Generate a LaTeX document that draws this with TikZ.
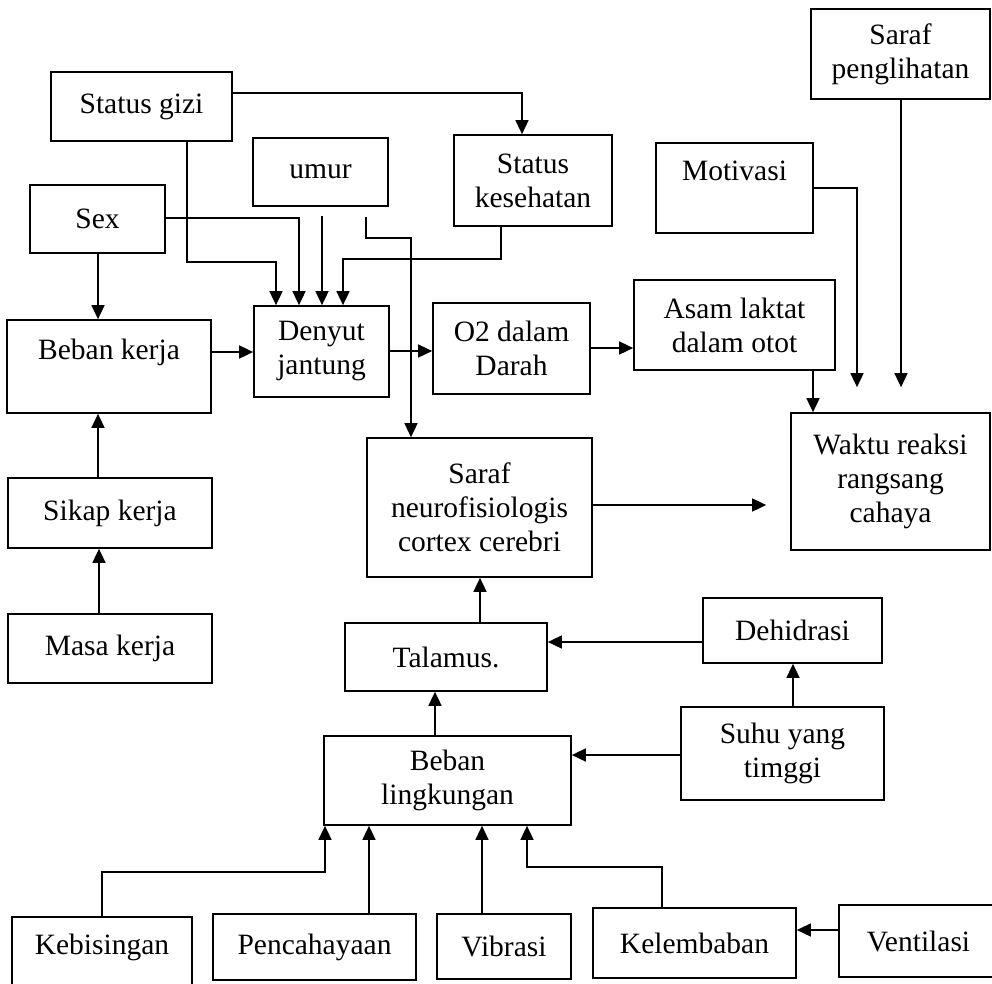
\documentclass[tikz,border=0pt]{standalone}
\usepackage{fontspec}
\setmainfont{Liberation Serif}
\usetikzlibrary{arrows.meta}
\begin{document}
\begin{tikzpicture}[x=1pt,y=-1pt,
  box/.style={draw,line width=1.7pt,inner sep=0pt,align=center,
    font=\fontsize{29.5}{34}\selectfont},
  arr/.style={line width=1.6pt,-{Triangle[length=14pt,width=13pt]}}]
\clip (0,0) rectangle (992,983);
\useasboundingbox (0,0) rectangle (992,983);
% boxes
\node[box,minimum width=181pt,minimum height=69pt] (gizi) at (141.5,106.5) {Status gizi};
\node[box,minimum width=135pt,minimum height=68pt] (sex) at (97.5,219) {Sex};
\node[box,minimum width=135pt,minimum height=68pt] (umur) at (320.5,172) {umur};
\node[box,minimum width=158pt,minimum height=91pt] (kes) at (533,180.5) {Status\\kesehatan};
\node[box,minimum width=157pt,minimum height=90pt] (moti) at (734.5,188) {Motivasi\\\mbox{}};
\node[box,minimum width=179pt,minimum height=90pt] (peng) at (900.5,54) {Saraf\\penglihatan};
\node[box,minimum width=201pt,minimum height=90pt] (asam) at (734.5,325) {Asam laktat\\dalam otot};
\node[box,minimum width=199pt,minimum height=137pt] (waktu) at (890.5,481.5) {Waktu reaksi\\rangsang\\cahaya};
\node[box,minimum width=135pt,minimum height=91pt] (denyut) at (321.5,351.5) {Denyut\\jantung};
\node[box,minimum width=157pt,minimum height=91pt] (o2) at (511.5,348.5) {O2 dalam\\Darah};
\node[box,minimum width=204pt,minimum height=93pt] (bk) at (109,366.5) {Beban kerja\\\mbox{}};
\node[box,minimum width=204pt,minimum height=70pt] (sikap) at (110,513) {Sikap kerja};
\node[box,minimum width=204pt,minimum height=69pt] (masa) at (110,648.5) {Masa kerja};
\node[box,minimum width=225pt,minimum height=139pt] (saraf) at (479.5,507.5) {Saraf\\neurofisiologis\\cortex cerebri};
\node[box,minimum width=202pt,minimum height=68pt] (tal) at (446,657) {Talamus.};
\node[box,minimum width=179pt,minimum height=65pt] (dehi) at (792.5,630.5) {Dehidrasi};
\node[box,minimum width=203pt,minimum height=93pt] (suhu) at (782.5,753.5) {Suhu yang\\timggi};
\node[box,minimum width=247pt,minimum height=89pt] (bl) at (447.5,780.5) {Beban\\lingkungan};
\node[box,minimum width=180pt,minimum height=76pt,text depth=22pt] (kebis) at (102,955) {Kebisingan};
\node[box,minimum width=203pt,minimum height=66pt] (pen) at (314.5,947) {Pencahayaan};
\node[box,minimum width=134pt,minimum height=65pt] (vib) at (504,946.5) {Vibrasi};
\node[box,minimum width=203pt,minimum height=70pt] (kel) at (694.5,943) {Kelembaban};
\node[box,minimum width=159pt,minimum height=72pt] (vent) at (918.5,941) {Ventilasi};
% connectors
\draw[arr] (gizi.east |- 0,93) -| (kes.north -| 522,0);
\draw[arr] (gizi.south -| 187,0) |- (276,262) -- (denyut.north -| 276,0);
\draw[arr] (sex.east |- 0,218) -| (denyut.north -| 299,0);
\draw[arr,shorten <=9pt] (umur.south -| 322,0) -- (denyut.north -| 322,0);
\draw[arr] (kes.south -| 501,0) |- (343,259) -- (denyut.north -| 343,0);
\draw[arr,shorten <=10pt] (umur.south -| 366,0) |- (411,238) -- (saraf.north -| 411,0);
\draw[arr] (sex.south -| 98,0) -- (bk.north -| 98,0);
\draw[arr] (bk.east |- 0,352) -- (denyut.west |- 0,352);
\draw[arr] (denyut.east |- 0,351) -- (o2.west |- 0,351);
\draw[arr] (o2.east |- 0,348) -- (asam.west |- 0,348);
\draw[arr] (asam.south -| 813,0) -- (waktu.north -| 813,0);
\draw[arr,shorten >=25pt] (moti.east |- 0,188) -| (waktu.north -| 857,0);
\draw[arr,shorten >=25pt] (peng.south -| 901,0) -- (waktu.north -| 901,0);
\draw[arr,shorten >=24pt] (saraf.east |- 0,505) -- (waktu.west |- 0,505);
\draw[arr] (sikap.north -| 98,0) -- (bk.south -| 98,0);
\draw[arr] (masa.north -| 99,0) -- (sikap.south -| 99,0);
\draw[arr] (tal.north -| 480,0) -- (saraf.south -| 480,0);
\draw[arr] (dehi.west |- 0,642) -- (tal.east |- 0,642);
\draw[arr] (suhu.north -| 793,0) -- (dehi.south -| 793,0);
\draw[arr] (suhu.west |- 0,755) -- (bl.east |- 0,755);
\draw[arr] (bl.north -| 435,0) -- (tal.south -| 435,0);
\draw[arr] (kebis.north -| 102,0) |- (325,872) -- (bl.south -| 325,0);
\draw[arr] (pen.north -| 369,0) -- (bl.south -| 369,0);
\draw[arr] (vib.north -| 482,0) -- (bl.south -| 482,0);
\draw[arr] (kel.north -| 662,0) |- (527,867) -- (bl.south -| 527,0);
\draw[arr] (vent.west |- 0,930) -- (kel.east |- 0,930);
\end{tikzpicture}
\end{document}
